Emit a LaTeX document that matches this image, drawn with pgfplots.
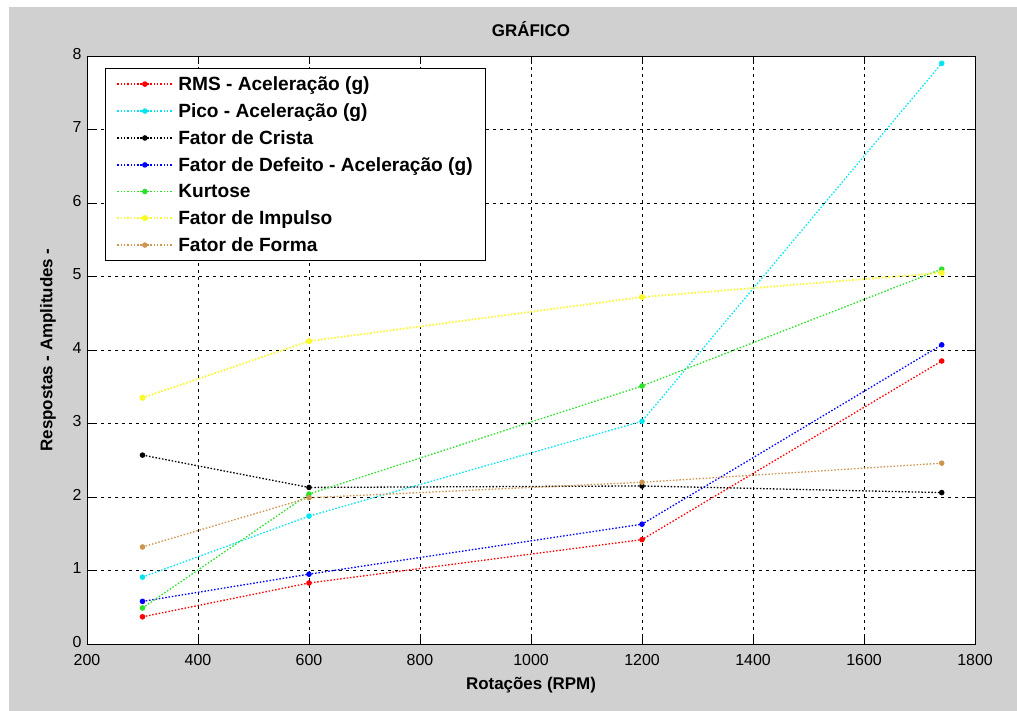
\documentclass[border=0pt]{standalone}
\usepackage{fontspec}
\setmainfont{Liberation Sans}
\usepackage{pgfplots}
\pgfplotsset{compat=1.18}
\definecolor{figgray}{RGB}{208,208,208}
\definecolor{forma}{RGB}{205,150,80}
\definecolor{kgreen}{RGB}{40,225,40}
\definecolor{mcyan}{RGB}{0,230,240}
\definecolor{myellow}{RGB}{250,250,40}
\begin{document}
\begin{tikzpicture}[x=1bp,y=1bp]
\fill[white] (-87,-67) rectangle (930,644);
\fill[figgray] (-78,-67) rectangle (930,637);
\begin{axis}[
  scale only axis, width=888bp, height=588bp,
  xmin=200, xmax=1800, ymin=0, ymax=8,
  xtick={200,400,...,1800}, ytick={0,1,...,8},
  axis background/.style={fill=white},
  axis line style={black, line width=0.9bp},
  tick align=inside, tick pos=both, major tick length=8bp,
  tick style={black, line width=0.7bp},
  grid=major,
  major grid style={black, line width=0.8bp, dash pattern=on 3bp off 4bp},
  /pgf/number format/assume math mode=true,
  /pgf/number format/1000 sep={},
  ticklabel style={font=\fontsize{16}{19}\selectfont},
  xticklabel style={yshift=-7bp},
  yticklabel style={xshift=-2bp, yshift=2bp},
  title={\textbf{GRÁFICO}},
  title style={font=\fontsize{17}{20}\selectfont, at={(axis description cs:0.5,1.036)}, anchor=center},
  xlabel={\textbf{Rotações (RPM)}},
  xlabel style={font=\fontsize{17}{20}\selectfont, at={(axis description cs:0.5,-0.0697)}, anchor=center},
  ylabel={\textbf{Respostas - Amplitudes -}},
  ylabel style={font=\fontsize{17}{20}\selectfont, at={(axis description cs:-0.044,0.5)}, anchor=center},
  legend style={at={(axis description cs:0.0203,0.9796)}, anchor=north west,
     draw=black, line width=0.9bp, fill=white, font=\fontsize{19.2}{23}\selectfont\bfseries,
     row sep=7.6bp, column sep=3bp, inner xsep=11bp, inner ysep=6bp},
  legend cell align=left,
  legend image code/.code={\draw[mark repeat=2,mark phase=2,#1] plot coordinates {(0bp,0bp) (27.5bp,0bp) (55bp,0bp)};},
  every axis plot/.append style={line width=1.3bp, dash pattern=on 1.5bp off 1.8bp, mark=*, mark size=2.1bp, mark options={solid}},
]
\addplot[red] coordinates {(300,0.37) (600,0.83) (1200,1.42) (1740,3.85)};
\addlegendentry{RMS - Aceleração (g)}
\addplot[mcyan] coordinates {(300,0.91) (600,1.74) (1200,3.03) (1740,7.90)};
\addlegendentry{Pico - Aceleração (g)}
\addplot[black] coordinates {(300,2.57) (600,2.13) (1200,2.15) (1740,2.06)};
\addlegendentry{Fator de Crista}
\addplot[blue] coordinates {(300,0.58) (600,0.95) (1200,1.63) (1740,4.07)};
\addlegendentry{Fator de Defeito - Aceleração (g)}
\addplot[kgreen] coordinates {(300,0.49) (600,2.04) (1200,3.51) (1740,5.10)};
\addlegendentry{Kurtose}
\addplot[myellow, line width=1.8bp] coordinates {(300,3.35) (600,4.12) (1200,4.72) (1740,5.05)};
\addlegendentry{Fator de Impulso}
\addplot[forma] coordinates {(300,1.32) (600,1.99) (1200,2.20) (1740,2.46)};
\addlegendentry{Fator de Forma}
\end{axis}
\end{tikzpicture}
\end{document}
